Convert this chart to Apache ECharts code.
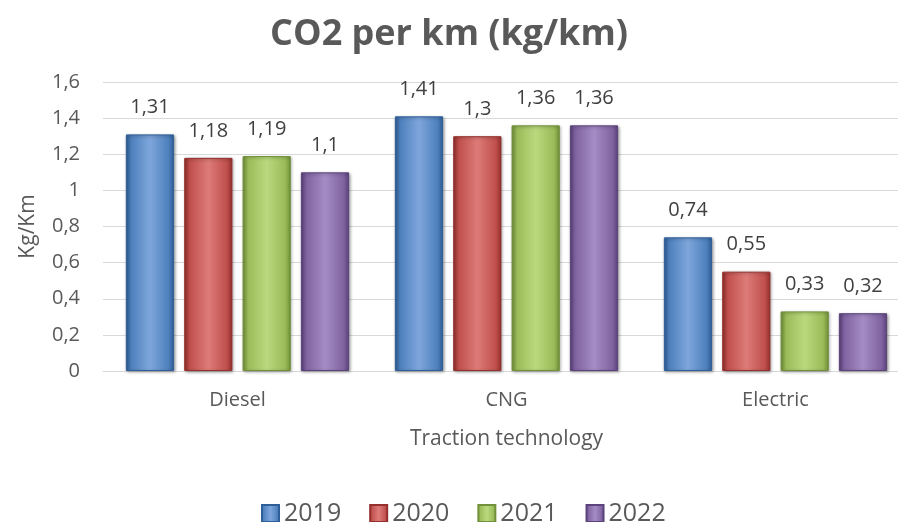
<!DOCTYPE html>
<html>
<head>
<meta charset="utf-8">
<script src="https://cdn.jsdelivr.net/npm/echarts@6/dist/echarts.min.js"></script>
<style>
  html, body { margin: 0; padding: 0; background: #fff; }
  #chart { width: 898px; height: 522px; }
</style>
</head>
<body>
<div id="chart"></div>
<script>
const categories = ['Diesel', 'CNG', 'Electric'];
const years = ['2019', '2020', '2021', '2022'];
const values2019 = [1.31, 1.41, 0.74];
const values2020 = [1.18, 1.3, 0.55];
const values2021 = [1.19, 1.36, 0.33];
const values2022 = [1.1, 1.36, 0.32];
const seriesValues = [values2019, values2020, values2021, values2022];

// base colour, light and dark shade for the bevel look
const palette = [
  ['#4f81bd', '#7ea6dc', '#2f5f98'],
  ['#c0504d', '#dd7b78', '#94302d'],
  ['#9bbb59', '#bad97e', '#71913a'],
  ['#8064a2', '#a58cc4', '#5c437c'],
];

const comma = v => String(v).replace('.', ',');
const textFont = '"Open Sans", "Liberation Sans", sans-serif';

const chart = echarts.init(document.getElementById('chart'));

const series = years.map((y, i) => ({
  name: y,
  type: 'bar',
  data: seriesValues[i],
  barGap: '21%',
  barCategoryGap: '17%',
  itemStyle: {
    color: new echarts.graphic.LinearGradient(0, 0, 1, 0, [
      { offset: 0, color: palette[i][2] },
      { offset: 0.12, color: palette[i][0] },
      { offset: 0.5, color: palette[i][1] },
      { offset: 0.88, color: palette[i][0] },
      { offset: 1, color: palette[i][2] },
    ]),
    borderColor: palette[i][2],
    borderWidth: 1,
    shadowColor: 'rgba(0,0,0,0.35)',
    shadowBlur: 3,
    shadowOffsetX: 1,
    shadowOffsetY: 1,
  },
  label: {
    show: true,
    position: 'top',
    distance: 17,
    color: '#404040',
    fontSize: 20,
    fontFamily: textFont,
    formatter: p => comma(p.value),
  },
}));

chart.setOption({
  backgroundColor: '#fff',
  title: {
    text: 'CO2 per km (kg/km)',
    left: 'center',
    top: 12,
    textStyle: {
      color: '#595959',
      fontSize: 36,
      fontWeight: 'bold',
      fontFamily: textFont,
    },
  },
  legend: {
    top: 496,
    left: 256,
    itemWidth: 17,
    itemHeight: 17,
    itemGap: 28,
    icon: 'rect',
    textStyle: { color: '#595959', fontSize: 25, fontFamily: textFont },
    data: years,
  },
  grid: { left: 103, top: 82, width: 807, height: 289, outerBoundsMode: 'none' },
  xAxis: {
    type: 'category',
    data: categories,
    name: 'Traction technology',
    nameLocation: 'middle',
    nameGap: 58,
    nameTextStyle: { color: '#595959', fontSize: 21, fontFamily: textFont },
    axisLine: { lineStyle: { color: '#d9d9d9', width: 1 } },
    axisTick: { show: false },
    axisLabel: { color: '#595959', fontSize: 20, fontFamily: textFont, margin: 19 },
  },
  yAxis: {
    type: 'value',
    min: 0,
    max: 1.6,
    interval: 0.2,
    name: 'Kg/Km',
    nameLocation: 'middle',
    nameGap: 64,
    nameTextStyle: { color: '#595959', fontSize: 21, fontFamily: textFont },
    axisLine: { show: false },
    axisTick: { show: false },
    splitLine: { lineStyle: { color: '#d9d9d9', width: 1 } },
    axisLabel: {
      color: '#595959',
      fontSize: 20,
      fontFamily: textFont,
      margin: 23,
      formatter: v => comma(Math.round(v * 10) / 10),
    },
  },
  series: series,
});
</script>
</body>
</html>
